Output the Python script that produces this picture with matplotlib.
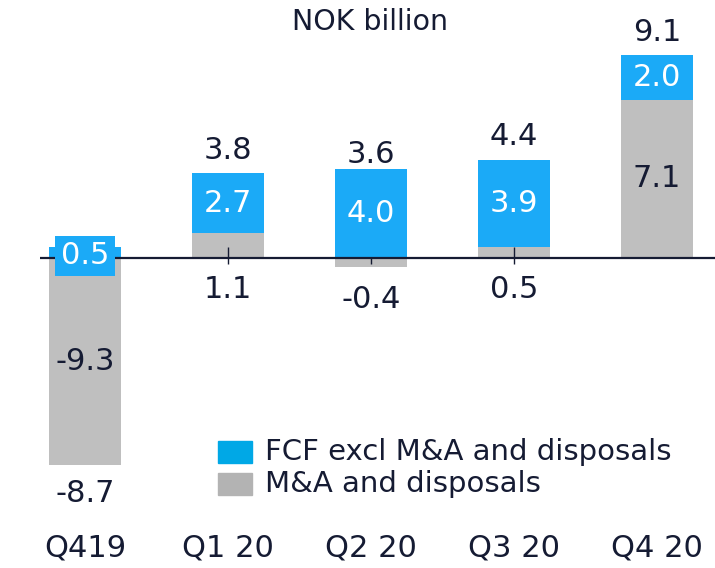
import matplotlib.pyplot as plt
from matplotlib.patches import Rectangle

# Data (NOK billion)
quarters = ['Q419', 'Q1 20', 'Q2 20', 'Q3 20', 'Q4 20']
fcf = [0.5, 2.7, 4.0, 3.9, 2.0]              # FCF excl M&A and disposals
mna = [-9.3, 1.1, -0.4, 0.5, 7.1]            # M&A and disposals
totals = [-8.7, 3.8, 3.6, 4.4, 9.1]
legend_labels = ['FCF excl M&A and disposals', 'M&A and disposals']

blue = '#1BAAF7'
gray = '#BFBFBF'
legend_blue = '#00A8E6'
legend_gray = '#B3B3B3'
ink = '#151B33'

fig = plt.figure(figsize=(7.15, 5.68), dpi=100)
ax = fig.add_axes([0, 0, 1, 1])
ax.set_xlim(-0.594, 4.406)
ax.set_ylim(-13.9, 11.57)
ax.axis('off')

x = list(range(len(quarters)))
width = 0.503

# gray M&A bars from zero, blue FCF stacked on top of positive gray
ax.bar(x, mna, width=width, color=gray, zorder=1)
blue_bottom = [m if m > 0 else 0 for m in mna]
blue_bottom[0] = 0
ax.bar(x, fcf, width=width, bottom=blue_bottom, color=blue, zorder=3)

# zero line and small ticks
ax.plot([-0.315, 4.406], [0, 0], color=ink, lw=1.6, zorder=4, solid_capstyle='butt')
ax.vlines(x[1:4], -0.25, 0.5, color=ink, lw=1.0, zorder=2)

fs = 22
# segment labels
for i in x:
    if i == 0:
        ax.text(i, 0.1, f'{fcf[i]:.1f}', ha='center', va='center', fontsize=fs, color='white', zorder=5,
                bbox=dict(boxstyle='square,pad=0.18', fc=blue, ec='none'))
    else:
        ax.text(i, blue_bottom[i] + fcf[i] / 2, f'{fcf[i]:.1f}', ha='center', va='center', fontsize=fs,
                color='white', zorder=5)

for i in x:
    if i in (0, 4):
        ax.text(i, mna[i] / 2, f'{mna[i]:.1f}', ha='center', va='center', fontsize=fs, color=ink, zorder=5)
    elif mna[i] > 0:
        ax.text(i, -1.43, f'{mna[i]:.1f}', ha='center', va='center', fontsize=fs, color=ink)
    else:
        ax.text(i, mna[i] - 1.48, f'{mna[i]:.1f}', ha='center', va='center', fontsize=fs, color=ink)

# totals
for i in x:
    if totals[i] >= 0:
        ax.text(i, totals[i] + 1.03, f'{totals[i]:.1f}', ha='center', va='center', fontsize=fs, color=ink)
    else:
        ax.text(i, mna[i] - 1.28, f'{totals[i]:.1f}', ha='center', va='center', fontsize=fs, color=ink)

# category labels
for i, q in enumerate(quarters):
    ax.text(i, -13.0, q, ha='center', va='center', fontsize=fs, color=ink)

ax.text(1.99, 10.58, 'NOK billion', ha='center', va='center', fontsize=20.5, color=ink)

# legend
for k, (lab, col) in enumerate(zip(legend_labels, [legend_blue, legend_gray])):
    y0 = 1 - (441 + k * 32) / 568
    fig.patches.append(Rectangle((218 / 715, y0 - 22 / 568), 34 / 715, 22 / 568, transform=fig.transFigure,
                                 color=col))
    fig.text(265 / 715, y0 - 11 / 568, lab, ha='left', va='center', fontsize=21, color=ink)

plt.savefig('out.png', dpi=100)
